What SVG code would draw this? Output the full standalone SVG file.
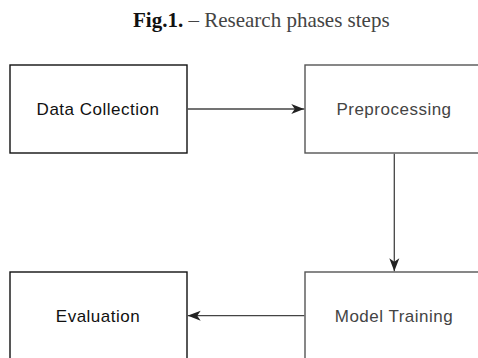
<svg xmlns="http://www.w3.org/2000/svg" width="478" height="358" viewBox="0 0 478 358">
  <defs>
    <style>
      .title { font-family: "Liberation Serif", "Times New Roman", serif; font-size: 21px; fill: #444; }
      .title .b { font-weight: bold; fill: #111; }
      .box { fill: #fff; stroke: #111; stroke-width: 1.4; }
      .box.light { stroke: #555; }
      .label { font-family: "Liberation Sans", Arial, sans-serif; font-size: 17px; letter-spacing: 0.5px; text-anchor: middle; fill: #111; }
      .label.light { fill: #444; }
      .edge { fill: none; stroke: #444; stroke-width: 1.3; }
    </style>
    <marker id="arrow" viewBox="0 0 13 11" refX="13" refY="5.5" markerWidth="13" markerHeight="11" markerUnits="userSpaceOnUse" orient="auto">
      <path d="M0,0.5 L13,5.5 L0,10.5 L3.5,5.5 Z" fill="#222"/>
    </marker>
  </defs>

  <rect width="478" height="358" fill="#fff"/>

  <text class="title" x="133" y="27"><tspan class="b">Fig.1.</tspan> – Research phases steps</text>

  <g id="data-collection">
    <rect class="box" x="10" y="65" width="177" height="88"/>
    <text class="label" x="98" y="114.5">Data Collection</text>
  </g>

  <g id="preprocessing">
    <rect class="box light" x="305" y="65" width="177" height="88"/>
    <text class="label light" x="394" y="114.5">Preprocessing</text>
  </g>

  <g id="model-training">
    <rect class="box light" x="305" y="272" width="177" height="88"/>
    <text class="label light" x="394" y="321.5">Model Training</text>
  </g>

  <g id="evaluation">
    <rect class="box" x="10" y="272" width="177" height="88"/>
    <text class="label" x="98" y="321.5">Evaluation</text>
  </g>

  <g id="connectors">
    <path class="edge" d="M187.7,109 H304.3" marker-end="url(#arrow)"/>
    <path class="edge" d="M394.3,153.7 V271.3" marker-end="url(#arrow)"/>
    <path class="edge" d="M304.3,315.7 H187.7" marker-end="url(#arrow)"/>
  </g>
</svg>
